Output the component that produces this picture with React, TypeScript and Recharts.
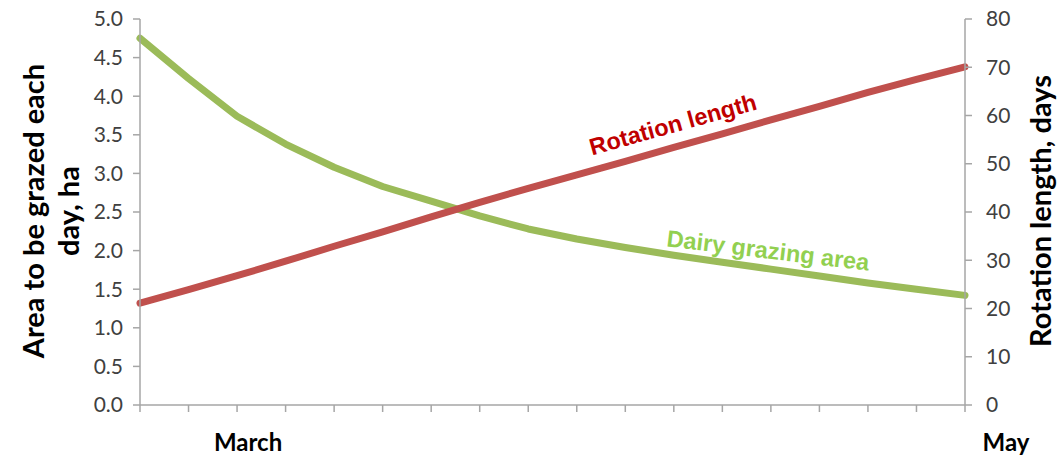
import React from 'react';
import { LineChart, Line, XAxis, YAxis } from 'recharts';

// weekly points, late February to May
const weeks = [1, 2, 3, 4, 5, 6, 7, 8, 9, 10, 11, 12, 13, 14, 15, 16, 17, 18];
const tickLabels = ['', '', 'March', '', '', '', '', '', '', '', '', '', '', '', '', '', '', 'May'];
const grazingArea = [4.75, 4.23, 3.74, 3.38, 3.08, 2.83, 2.64, 2.45, 2.28, 2.15, 2.04, 1.94, 1.85, 1.76, 1.67, 1.58, 1.5, 1.42];
const rotationLength = [21.1, 23.9, 26.8, 29.8, 32.9, 35.9, 39.0, 42.0, 44.9, 47.7, 50.5, 53.4, 56.2, 59.1, 61.9, 64.8, 67.5, 70.1];
const areaTicks = [0, 0.5, 1, 1.5, 2, 2.5, 3, 3.5, 4, 4.5, 5];
const daysTicks = [0, 10, 20, 30, 40, 50, 60, 70, 80];

const data = weeks.map((w, i) => ({
  week: w,
  area: grazingArea[i],
  rotation: rotationLength[i],
}));

const font = 'Lato, "Open Sans", sans-serif';
const axisColor = '#a6a6a6';
const tickStyle = { fontSize: 21, fill: '#404040', fontFamily: font };

const MonthTick = (props: any) => {
  const { x, y, index } = props;
  const label = tickLabels[index];
  if (!label) return null;
  const shift = index === tickLabels.length - 1 ? 41 : 11;
  return (
    <text
      x={x + shift}
      y={y}
      dy={37}
      textAnchor="middle"
      fontSize={24}
      fontWeight={700}
      fontFamily={font}
      fill="#000"
    >
      {label}
    </text>
  );
};

const App: React.FC = () => {
  return (
    <div style={{ position: 'absolute', left: 0, top: 0, width: 1057, height: 456, background: '#fff' }}>
      <LineChart width={1057} height={456} data={data} margin={{ top: 19, right: 0, left: 0, bottom: 0 }}>
        <XAxis
          dataKey="week"
          height={51}
          padding={{ left: 0, right: 0 }}
          axisLine={{ stroke: axisColor, strokeWidth: 1.5 }}
          tickLine={{ stroke: axisColor, strokeWidth: 1.5 }}
          tickSize={7}
          interval={0}
          tick={<MonthTick />}
        />
        <YAxis
          yAxisId="left"
          width={140}
          domain={[0, 5]}
          ticks={areaTicks}
          tickFormatter={(v: number) => v.toFixed(1)}
          axisLine={{ stroke: axisColor, strokeWidth: 1.5 }}
          tickLine={{ stroke: axisColor, strokeWidth: 1.5 }}
          tickSize={7}
          tickMargin={10}
          tick={tickStyle}
        />
        <YAxis
          yAxisId="right"
          orientation="right"
          width={92}
          domain={[0, 80]}
          ticks={daysTicks}
          axisLine={{ stroke: axisColor, strokeWidth: 1.5 }}
          tickLine={{ stroke: axisColor, strokeWidth: 1.5 }}
          tickSize={7}
          tickMargin={14}
          tick={tickStyle}
        />
        <Line
          yAxisId="left"
          dataKey="area"
          type="linear"
          stroke="#9bbb59"
          strokeWidth={7}
          strokeLinecap="round"
          strokeLinejoin="round"
          dot={false}
          activeDot={false}
          isAnimationActive={false}
        />
        <Line
          yAxisId="right"
          dataKey="rotation"
          type="linear"
          stroke="#c0504d"
          strokeWidth={7}
          strokeLinecap="round"
          strokeLinejoin="round"
          dot={false}
          activeDot={false}
          isAnimationActive={false}
        />
      </LineChart>

      {/* axis titles */}
      <div
        style={{
          position: 'absolute',
          left: 50,
          top: 211,
          width: 380,
          transform: 'translate(-50%, -50%) rotate(-90deg)',
          textAlign: 'center',
          fontFamily: font,
          fontWeight: 700,
          fontSize: 29,
          lineHeight: '35px',
          color: '#000',
        }}
      >
        Area to be grazed each
        <br />
        day, ha
      </div>
      <div
        style={{
          position: 'absolute',
          left: 1040,
          top: 211,
          width: 360,
          transform: 'translate(-50%, -50%) rotate(-90deg)',
          textAlign: 'center',
          fontFamily: font,
          fontWeight: 700,
          fontSize: 29,
          lineHeight: '32px',
          color: '#000',
          whiteSpace: 'nowrap',
        }}
      >
        Rotation length, days
      </div>

      {/* series labels */}
      <div
        style={{
          position: 'absolute',
          left: 673,
          top: 125,
          transform: 'translate(-50%, -50%) rotate(-15.6deg)',
          fontFamily: '"Liberation Sans", Arial, sans-serif',
          fontWeight: 700,
          fontSize: 23.5,
          color: '#c00000',
          whiteSpace: 'nowrap',
        }}
      >
        Rotation length
      </div>
      <div
        style={{
          position: 'absolute',
          left: 768,
          top: 251,
          transform: 'translate(-50%, -50%) rotate(6.9deg)',
          fontFamily: '"Liberation Sans", Arial, sans-serif',
          fontWeight: 700,
          fontSize: 23.5,
          color: '#92d050',
          whiteSpace: 'nowrap',
        }}
      >
        Dairy grazing area
      </div>
    </div>
  );
};

export default App;
